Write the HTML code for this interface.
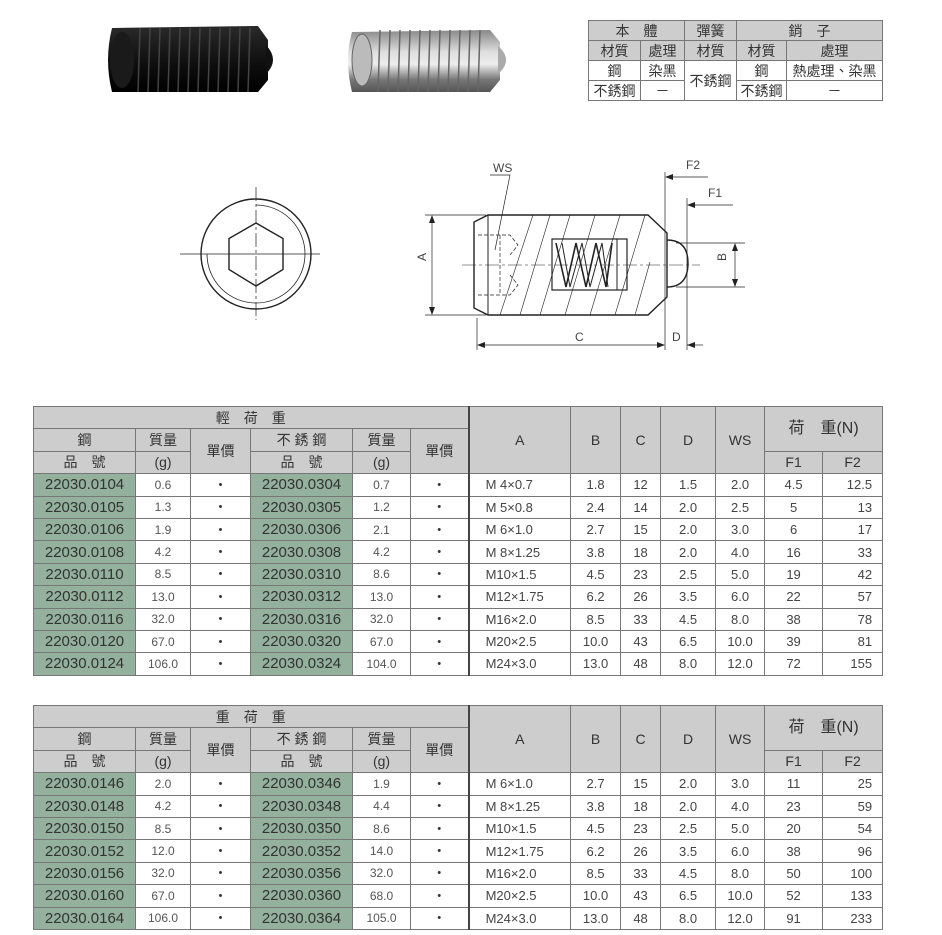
<!DOCTYPE html>
<html><head><meta charset="utf-8"><style>
body{margin:0;background:#fff;width:942px;height:935px;position:relative;overflow:hidden;font-family:"Liberation Sans","Noto Sans CJK TC",sans-serif;color:#333}
table{border-collapse:collapse;table-layout:fixed;position:absolute}
td{border:1px solid #777;padding:0;text-align:center;font-size:14px;white-space:nowrap;overflow:hidden;line-height:1}
.h td.g,td.g{background:#cdcdcd}
td.gr{background:#93b19c;font-size:15px}
td.m{font-size:12px;color:#555}
td.a{text-align:left;padding-left:16px;font-size:13px;color:#444}
td.n{font-size:13px;color:#444}
td.r{text-align:right;padding-right:10px}
.big tr{height:22.4px}
.big td{height:21.4px}
td.sep{border-left:2px solid #444}
.top td{font-size:14px;height:19px}
</style></head><body>

<svg style="position:absolute;left:0;top:0" width="942" height="130">
<defs>
<linearGradient id="blk" x1="0" y1="0" x2="0" y2="1"><stop offset="0" stop-color="#2a2a2a"/><stop offset=".5" stop-color="#111"/><stop offset="1" stop-color="#000"/></linearGradient>
<linearGradient id="sil" x1="0" y1="0" x2="0" y2="1"><stop offset="0" stop-color="#888"/><stop offset=".35" stop-color="#ddd"/><stop offset=".55" stop-color="#eee"/><stop offset=".8" stop-color="#777"/><stop offset="1" stop-color="#555"/></linearGradient>
</defs>
<path d="M112 28 L258 26 L268 40 L268 80 L258 92 L112 92 Q104 60 112 28Z" fill="url(#blk)"/>
<path d="M266 45 Q280 60 266 74Z" fill="#111"/>
<ellipse cx="122" cy="60" rx="12" ry="28" fill="#1a1a1a"/>
<g stroke="#444" stroke-width="1.5">
<line x1="140" y1="28" x2="138" y2="92"/><line x1="150" y1="28" x2="148" y2="92"/><line x1="160" y1="28" x2="158" y2="92"/><line x1="170" y1="28" x2="168" y2="92"/><line x1="180" y1="28" x2="178" y2="92"/><line x1="190" y1="28" x2="188" y2="92"/><line x1="200" y1="28" x2="198" y2="92"/><line x1="210" y1="28" x2="208" y2="92"/><line x1="220" y1="28" x2="218" y2="92"/><line x1="230" y1="28" x2="228" y2="92"/><line x1="240" y1="28" x2="238" y2="92"/><line x1="250" y1="28" x2="248" y2="92"/></g>
<path d="M352 32 L490 30 L500 42 L500 80 L490 92 L352 92 Q344 60 352 32Z" fill="url(#sil)"/>
<path d="M498 46 Q514 60 498 74Z" fill="#aaa"/>
<ellipse cx="362" cy="60" rx="10" ry="26" fill="#bbb" stroke="#666"/>
<g stroke="#666" stroke-width="1.5">
<line x1="380" y1="30" x2="378" y2="92"/><line x1="390" y1="30" x2="388" y2="92"/><line x1="400" y1="30" x2="398" y2="92"/><line x1="410" y1="30" x2="408" y2="92"/><line x1="420" y1="30" x2="418" y2="92"/><line x1="430" y1="30" x2="428" y2="92"/><line x1="440" y1="30" x2="438" y2="92"/><line x1="450" y1="30" x2="448" y2="92"/><line x1="460" y1="30" x2="458" y2="92"/><line x1="470" y1="30" x2="468" y2="92"/><line x1="480" y1="30" x2="478" y2="92"/></g>
</svg>

<table class="top" style="left:588px;top:20px;width:294px">
<colgroup><col style="width:52px"><col style="width:44px"><col style="width:52px"><col style="width:50px"><col style="width:96px"></colgroup>
<tr><td class="g" colspan="2">本　體</td><td class="g">彈簧</td><td class="g" colspan="2">銷　子</td></tr>
<tr><td class="g">材質</td><td class="g">處理</td><td class="g">材質</td><td class="g">材質</td><td class="g">處理</td></tr>
<tr><td>鋼</td><td>染黑</td><td rowspan="2">不銹鋼</td><td>鋼</td><td>熱處理、染黑</td></tr>
<tr><td>不銹鋼</td><td>－</td><td>不銹鋼</td><td>－</td></tr>
</table>

<svg style="position:absolute;left:0;top:140px" width="942" height="230" viewBox="0 140 942 230" fill="none" stroke="#222" stroke-width="1">
<circle cx="256" cy="254" r="55" stroke-width="1.4"/>
<path d="M256 205 A49 49 0 1 1 207 254" stroke-width="0.8"/>
<polygon points="256,223 283,238.5 283,269.5 256,286 229,269.5 229,238.5" stroke-width="1.4"/>
<line x1="180" y1="254" x2="320" y2="254" stroke-width="0.7"/>
<line x1="256" y1="187" x2="256" y2="320" stroke-width="0.7" stroke-dasharray="14 3 3 3"/>
<path d="M488 215 L648 215 L667 233 L667 297 L648 315 L488 315 L474 308 L474 222 Z" stroke-width="1.4"/>
<line x1="488" y1="215" x2="488" y2="315"/>
<path d="M667 240 Q688 240 688 263 Q688 287 667 287" stroke-width="1.4"/>
<rect x="552" y="239" width="75" height="51" stroke-width="1.2"/>
<line x1="617" y1="239" x2="617" y2="290"/>
<path d="M556 243 L566 287 L576 243 L586 287 L596 243 L606 287 L612 243" stroke-width="1.6"/>
<path d="M562 243 L570 287 L582 243 L590 287 L602 243 L608 287" stroke-width="1"/>
<g stroke-width="0.6"><line x1="520" y1="315" x2="550" y2="215"/><line x1="540" y1="315" x2="570" y2="215"/><line x1="565" y1="315" x2="595" y2="215"/><line x1="590" y1="315" x2="620" y2="215"/><line x1="615" y1="315" x2="645" y2="215"/><line x1="635" y1="315" x2="650" y2="262"/><line x1="533" y1="215" x2="500" y2="315"/></g>
<g stroke-width="0.7" stroke-dasharray="4 2"><path d="M478 235 L510 235 L518 245 L510 255"/><path d="M478 295 L510 295 L518 285 L510 275"/><line x1="500" y1="235" x2="500" y2="295"/></g>
<line x1="462" y1="265" x2="700" y2="265" stroke-width="0.6" stroke-dasharray="14 3 3 3"/>
<g stroke-width="0.7"><line x1="425" y1="215" x2="486" y2="215"/><line x1="425" y1="315" x2="486" y2="315"/><line x1="432" y1="217" x2="432" y2="313"/>
<line x1="676" y1="243" x2="745" y2="243"/><line x1="676" y1="287" x2="745" y2="287"/><line x1="735" y1="245" x2="735" y2="285"/>
<line x1="477" y1="318" x2="477" y2="350"/><line x1="665" y1="172" x2="665" y2="350"/><line x1="687" y1="198" x2="687" y2="350"/>
<line x1="479" y1="345" x2="663" y2="345"/><line x1="687" y1="345" x2="703" y2="345"/>
<line x1="667" y1="177" x2="708" y2="177"/><line x1="689" y1="205" x2="733" y2="205"/>
<path d="M490 175 L510 175 L495 250"/></g>
<g fill="#222" stroke="none"><path d="M432 215 l-3 8 h6z"/><path d="M432 315 l-3 -8 h6z"/><path d="M735 243 l-3 8 h6z"/><path d="M735 287 l-3 -8 h6z"/><path d="M477 345 l8 -3 v6z"/><path d="M665 345 l-8 -3 v6z"/><path d="M687 345 l8 -3 v6z"/><path d="M665 177 l8 -3 v6z"/><path d="M687 205 l8 -3 v6z"/></g>
<g fill="#444" stroke="none" font-size="12" font-family="Liberation Sans,sans-serif"><text x="493" y="172">WS</text><text x="686" y="169">F2</text><text x="708" y="197">F1</text><text x="575" y="341">C</text><text x="672" y="341">D</text><text x="427" y="270" transform="rotate(-90 422 266)">A</text><text x="727" y="270" transform="rotate(-90 722 266)">B</text></g>
</svg>

<table class="big" style="left:33px;top:406px;width:849px">
<colgroup><col style="width:102px"><col style="width:55px"><col style="width:60px"><col style="width:102px"><col style="width:58px"><col style="width:58px"><col style="width:102px"><col style="width:50px"><col style="width:40px"><col style="width:55px"><col style="width:49px"><col style="width:58px"><col style="width:60px"></colgroup>
<tr><td class="g" colspan="6">輕　荷　重</td><td class="g sep" rowspan="3">A</td><td class="g" rowspan="3">B</td><td class="g" rowspan="3">C</td><td class="g" rowspan="3">D</td><td class="g" rowspan="3">WS</td><td class="g" colspan="2" rowspan="2" style="font-size:16px">荷　重(N)</td></tr>
<tr><td class="g">鋼</td><td class="g">質量</td><td class="g" rowspan="2">單價</td><td class="g">不 銹 鋼</td><td class="g">質量</td><td class="g" rowspan="2">單價</td></tr>
<tr><td class="g">品　號</td><td class="g">(g)</td><td class="g">品　號</td><td class="g">(g)</td><td class="g">F1</td><td class="g">F2</td></tr>
<tr><td class="gr">22030.0104</td><td class="m">0.6</td><td>・</td><td class="gr">22030.0304</td><td class="m">0.7</td><td>・</td><td class="a sep">M 4×0.7</td><td class="n">1.8</td><td class="n">12</td><td class="n">1.5</td><td class="n">2.0</td><td class="n">4.5</td><td class="n r">12.5</td></tr>
<tr><td class="gr">22030.0105</td><td class="m">1.3</td><td>・</td><td class="gr">22030.0305</td><td class="m">1.2</td><td>・</td><td class="a sep">M 5×0.8</td><td class="n">2.4</td><td class="n">14</td><td class="n">2.0</td><td class="n">2.5</td><td class="n">5</td><td class="n r">13</td></tr>
<tr><td class="gr">22030.0106</td><td class="m">1.9</td><td>・</td><td class="gr">22030.0306</td><td class="m">2.1</td><td>・</td><td class="a sep">M 6×1.0</td><td class="n">2.7</td><td class="n">15</td><td class="n">2.0</td><td class="n">3.0</td><td class="n">6</td><td class="n r">17</td></tr>
<tr><td class="gr">22030.0108</td><td class="m">4.2</td><td>・</td><td class="gr">22030.0308</td><td class="m">4.2</td><td>・</td><td class="a sep">M 8×1.25</td><td class="n">3.8</td><td class="n">18</td><td class="n">2.0</td><td class="n">4.0</td><td class="n">16</td><td class="n r">33</td></tr>
<tr><td class="gr">22030.0110</td><td class="m">8.5</td><td>・</td><td class="gr">22030.0310</td><td class="m">8.6</td><td>・</td><td class="a sep">M10×1.5</td><td class="n">4.5</td><td class="n">23</td><td class="n">2.5</td><td class="n">5.0</td><td class="n">19</td><td class="n r">42</td></tr>
<tr><td class="gr">22030.0112</td><td class="m">13.0</td><td>・</td><td class="gr">22030.0312</td><td class="m">13.0</td><td>・</td><td class="a sep">M12×1.75</td><td class="n">6.2</td><td class="n">26</td><td class="n">3.5</td><td class="n">6.0</td><td class="n">22</td><td class="n r">57</td></tr>
<tr><td class="gr">22030.0116</td><td class="m">32.0</td><td>・</td><td class="gr">22030.0316</td><td class="m">32.0</td><td>・</td><td class="a sep">M16×2.0</td><td class="n">8.5</td><td class="n">33</td><td class="n">4.5</td><td class="n">8.0</td><td class="n">38</td><td class="n r">78</td></tr>
<tr><td class="gr">22030.0120</td><td class="m">67.0</td><td>・</td><td class="gr">22030.0320</td><td class="m">67.0</td><td>・</td><td class="a sep">M20×2.5</td><td class="n">10.0</td><td class="n">43</td><td class="n">6.5</td><td class="n">10.0</td><td class="n">39</td><td class="n r">81</td></tr>
<tr><td class="gr">22030.0124</td><td class="m">106.0</td><td>・</td><td class="gr">22030.0324</td><td class="m">104.0</td><td>・</td><td class="a sep">M24×3.0</td><td class="n">13.0</td><td class="n">48</td><td class="n">8.0</td><td class="n">12.0</td><td class="n">72</td><td class="n r">155</td></tr>
</table>

<table class="big" style="left:33px;top:705px;width:849px">
<colgroup><col style="width:102px"><col style="width:55px"><col style="width:60px"><col style="width:102px"><col style="width:58px"><col style="width:58px"><col style="width:102px"><col style="width:50px"><col style="width:40px"><col style="width:55px"><col style="width:49px"><col style="width:58px"><col style="width:60px"></colgroup>
<tr><td class="g" colspan="6">重　荷　重</td><td class="g sep" rowspan="3">A</td><td class="g" rowspan="3">B</td><td class="g" rowspan="3">C</td><td class="g" rowspan="3">D</td><td class="g" rowspan="3">WS</td><td class="g" colspan="2" rowspan="2" style="font-size:16px">荷　重(N)</td></tr>
<tr><td class="g">鋼</td><td class="g">質量</td><td class="g" rowspan="2">單價</td><td class="g">不 銹 鋼</td><td class="g">質量</td><td class="g" rowspan="2">單價</td></tr>
<tr><td class="g">品　號</td><td class="g">(g)</td><td class="g">品　號</td><td class="g">(g)</td><td class="g">F1</td><td class="g">F2</td></tr>
<tr><td class="gr">22030.0146</td><td class="m">2.0</td><td>・</td><td class="gr">22030.0346</td><td class="m">1.9</td><td>・</td><td class="a sep">M 6×1.0</td><td class="n">2.7</td><td class="n">15</td><td class="n">2.0</td><td class="n">3.0</td><td class="n">11</td><td class="n r">25</td></tr>
<tr><td class="gr">22030.0148</td><td class="m">4.2</td><td>・</td><td class="gr">22030.0348</td><td class="m">4.4</td><td>・</td><td class="a sep">M 8×1.25</td><td class="n">3.8</td><td class="n">18</td><td class="n">2.0</td><td class="n">4.0</td><td class="n">23</td><td class="n r">59</td></tr>
<tr><td class="gr">22030.0150</td><td class="m">8.5</td><td>・</td><td class="gr">22030.0350</td><td class="m">8.6</td><td>・</td><td class="a sep">M10×1.5</td><td class="n">4.5</td><td class="n">23</td><td class="n">2.5</td><td class="n">5.0</td><td class="n">20</td><td class="n r">54</td></tr>
<tr><td class="gr">22030.0152</td><td class="m">12.0</td><td>・</td><td class="gr">22030.0352</td><td class="m">14.0</td><td>・</td><td class="a sep">M12×1.75</td><td class="n">6.2</td><td class="n">26</td><td class="n">3.5</td><td class="n">6.0</td><td class="n">38</td><td class="n r">96</td></tr>
<tr><td class="gr">22030.0156</td><td class="m">32.0</td><td>・</td><td class="gr">22030.0356</td><td class="m">32.0</td><td>・</td><td class="a sep">M16×2.0</td><td class="n">8.5</td><td class="n">33</td><td class="n">4.5</td><td class="n">8.0</td><td class="n">50</td><td class="n r">100</td></tr>
<tr><td class="gr">22030.0160</td><td class="m">67.0</td><td>・</td><td class="gr">22030.0360</td><td class="m">68.0</td><td>・</td><td class="a sep">M20×2.5</td><td class="n">10.0</td><td class="n">43</td><td class="n">6.5</td><td class="n">10.0</td><td class="n">52</td><td class="n r">133</td></tr>
<tr><td class="gr">22030.0164</td><td class="m">106.0</td><td>・</td><td class="gr">22030.0364</td><td class="m">105.0</td><td>・</td><td class="a sep">M24×3.0</td><td class="n">13.0</td><td class="n">48</td><td class="n">8.0</td><td class="n">12.0</td><td class="n">91</td><td class="n r">233</td></tr>
</table>
</body></html>
